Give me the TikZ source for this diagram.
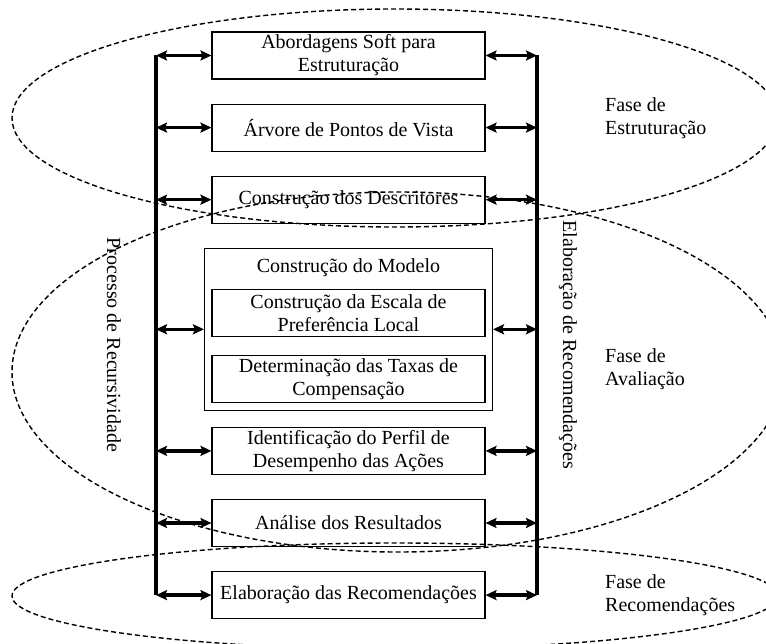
\documentclass[tikz,border=0pt]{standalone}
\usepackage{fontspec}
\setmainfont{Liberation Serif}
\usetikzlibrary{arrows.meta,positioning}

\begin{document}
\begin{tikzpicture}[
  x=1pt, y=-1pt,
  node distance=24pt,
  box/.style={rectangle, draw, line width=1.1pt, align=center,
              minimum width=273pt, minimum height=47pt, inner sep=2pt,
              font=\fontsize{20}{23}\selectfont},
  modelbox/.style={rectangle, draw, line width=1.1pt,
                   minimum width=288pt, minimum height=162pt},
  txt/.style={font=\fontsize{20}{23}\selectfont, inner sep=0pt},
  fase/.style={line width=1.4pt, dash pattern=on 5pt off 3pt},
  bar/.style={line width=4pt},
  arrow/.style={{Stealth[length=11pt,width=10pt,inset=2pt]}-{Stealth[length=11pt,width=10pt,inset=2pt]},
                line width=3.5pt}
]
\useasboundingbox (0,0) rectangle (766,644);

% fases
\draw[fase] (395,118) ellipse [x radius=383pt, y radius=109pt];
\draw[fase] (398,372) ellipse [x radius=386pt, y radius=180pt];
\draw[fase] (395,596) ellipse [x radius=383pt, y radius=53pt];

\node[txt, align=left, anchor=west] (festr) at (605,118) {Fase de\\Estruturação};
\node[txt, align=left, anchor=west] (faval) at (605,369) {Fase de\\Avaliação};
\node[txt, align=left, anchor=west] (frec) at (605,595) {Fase de\\Recomendações};

% etapas
\node[box] (abord) at (348.5,55.5) {Abordagens Soft para\\Estruturação};
\node[box, below=of abord] (arvore) {Árvore de Pontos de Vista};
\node[box, below=of arvore] (descr) {Construção dos Descritores};
\node[modelbox, below=of descr] (modelo) {};
\node[txt, below=11pt of modelo.north] (titulo) {Construção do Modelo};
\node[box, above=8pt of modelo.south] (taxas) {Determinação das Taxas de\\Compensação};
\node[box, above=18pt of taxas] (escala) {Construção da Escala de\\Preferência Local};
\node[box, below=16pt of modelo] (perfil) {Identificação do Perfil de\\Desempenho das Ações};
\node[box, below=of perfil] (analise) {Análise dos Resultados};
\node[box, below=of analise] (recom) {Elaboração das Recomendações};

% barras laterais
\coordinate (L) at (156,0);
\coordinate (R) at (537,0);
\draw[bar] (abord.west -| L) -- (recom.west -| L);
\draw[bar] (abord.east -| R) -- (recom.east -| R);

\foreach \n in {abord,arvore,descr,modelo,perfil,analise,recom}{
  \draw[arrow] (\n.west -| L) -- (\n.west);
  \draw[arrow] (\n.east) -- (\n.east -| R);
}

\node[txt, rotate=-90] (recurs) at (114,345) {Processo de Recursividade};
\node[txt, rotate=-90] (elab) at (568,345) {Elaboração de Recomendações};
\end{tikzpicture}
\end{document}
